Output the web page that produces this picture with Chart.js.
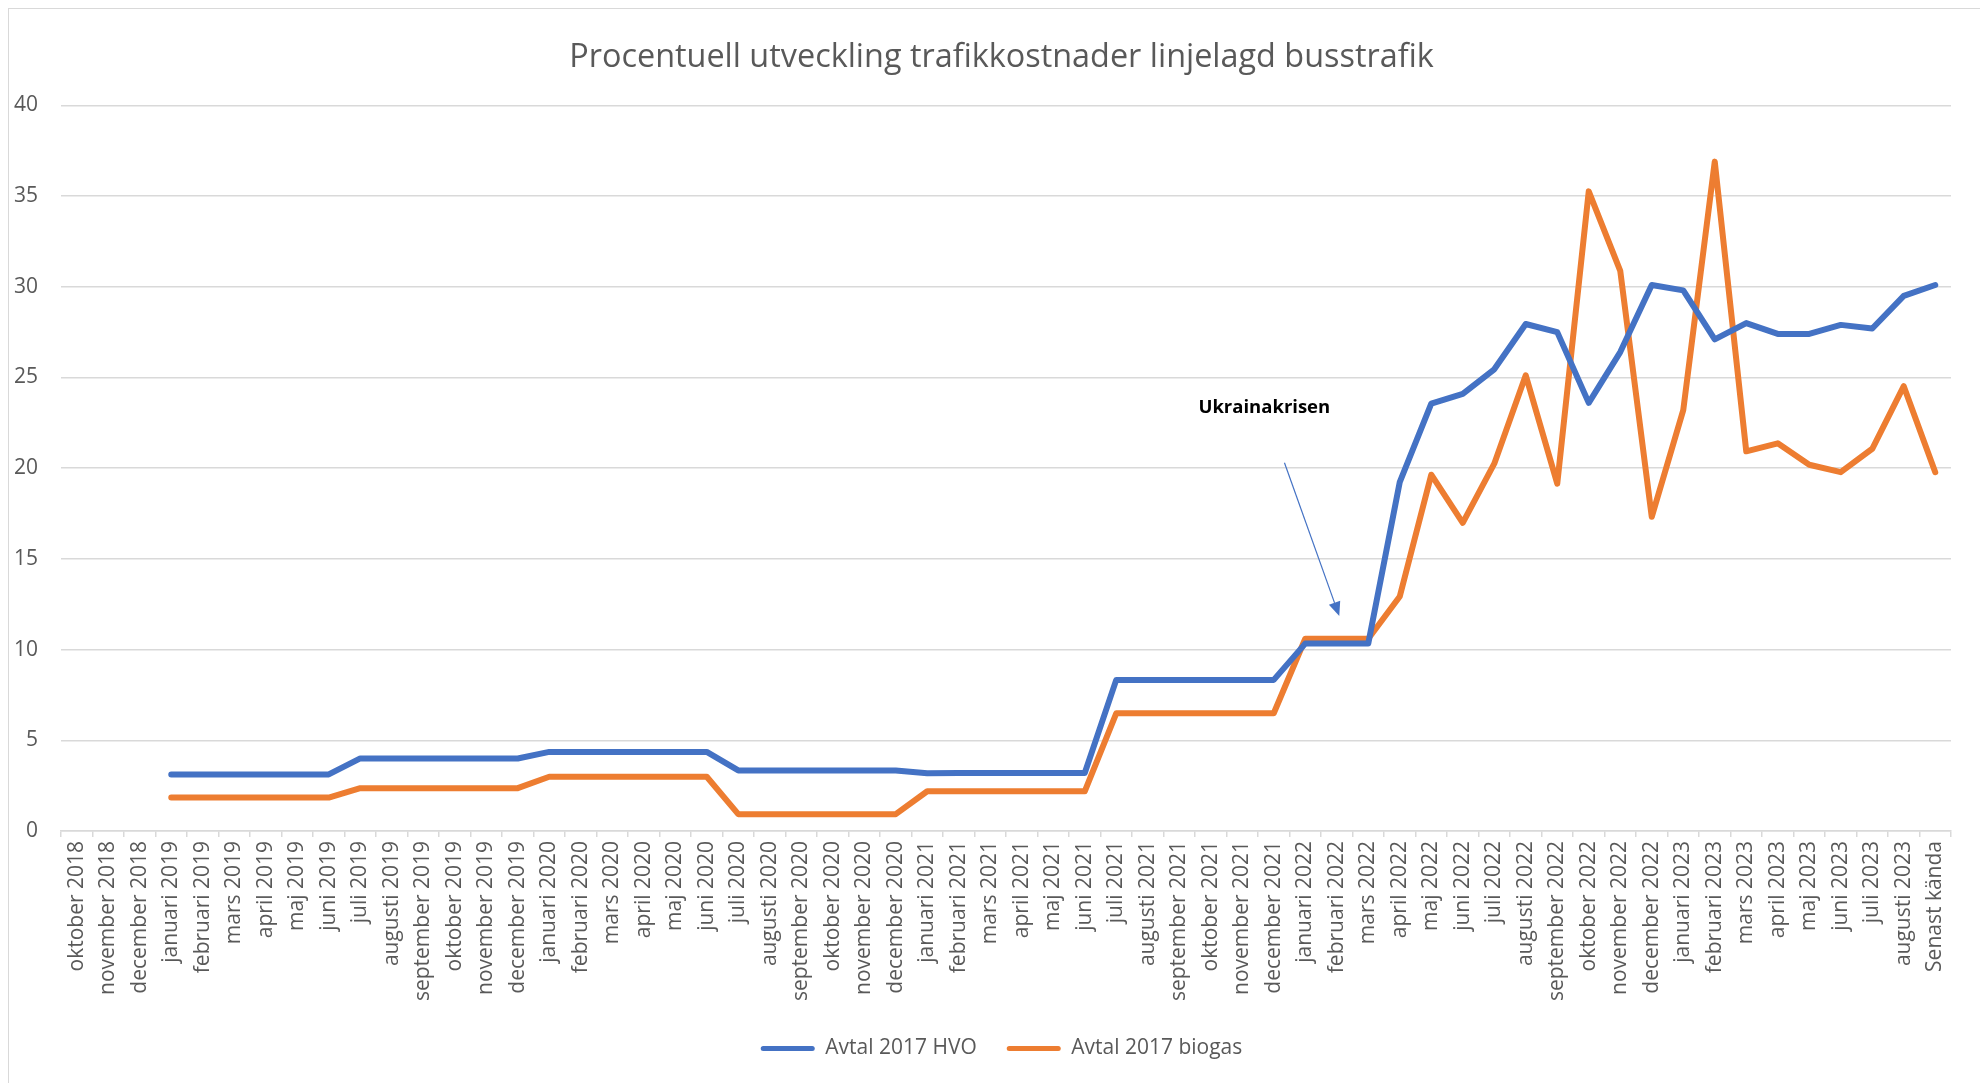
<!DOCTYPE html>
<html lang="sv">
<head>
<meta charset="utf-8">
<title>Procentuell utveckling trafikkostnader linjelagd busstrafik</title>
<script src="https://cdn.jsdelivr.net/npm/chart.js@4.4.1/dist/chart.umd.min.js"></script>
<style>
    html, body { margin: 0; padding: 0; background: #fff; }
    #wrap { position: relative; width: 1980px; height: 1083px; overflow: hidden; }
    #frame { position: absolute; left: 8px; top: 8px; width: 2000px; height: 1100px;
             border-left: 1.5px solid #d9d9d9; border-top: 1.5px solid #d9d9d9; }
    #chart { position: absolute; left: 0; top: 0; }
</style>
</head>
<body>
<div id="wrap">
    <div id="frame"></div>
    <canvas id="chart" width="1980" height="1083"></canvas>
</div>
<script>
// Kategorier (månader)
const months = [
    'oktober 2018', 'november 2018', 'december 2018',
    'januari 2019', 'februari 2019', 'mars 2019', 'april 2019', 'maj 2019', 'juni 2019',
    'juli 2019', 'augusti 2019', 'september 2019', 'oktober 2019', 'november 2019', 'december 2019',
    'januari 2020', 'februari 2020', 'mars 2020', 'april 2020', 'maj 2020', 'juni 2020',
    'juli 2020', 'augusti 2020', 'september 2020', 'oktober 2020', 'november 2020', 'december 2020',
    'januari 2021', 'februari 2021', 'mars 2021', 'april 2021', 'maj 2021', 'juni 2021',
    'juli 2021', 'augusti 2021', 'september 2021', 'oktober 2021', 'november 2021', 'december 2021',
    'januari 2022', 'februari 2022', 'mars 2022', 'april 2022', 'maj 2022', 'juni 2022',
    'juli 2022', 'augusti 2022', 'september 2022', 'oktober 2022', 'november 2022', 'december 2022',
    'januari 2023', 'februari 2023', 'mars 2023', 'april 2023', 'maj 2023', 'juni 2023',
    'juli 2023', 'augusti 2023', 'Senast kända'
];

// Avtal 2017 HVO (%)
const hvoValues = [
    null, null, null,
    3.12, 3.12, 3.12, 3.12, 3.12, 3.12,
    4.0, 4.0, 4.0, 4.0, 4.0, 4.0,
    4.36, 4.36, 4.36, 4.36, 4.36, 4.36,
    3.34, 3.34, 3.34, 3.34, 3.34, 3.34,
    3.18, 3.2, 3.2, 3.2, 3.2, 3.2,
    8.33, 8.33, 8.33, 8.33, 8.33, 8.33,
    10.33, 10.33, 10.33,
    19.23, 23.56, 24.1, 25.45, 27.95, 27.5, 23.6, 26.4, 30.1,
    29.8, 27.1, 28.0, 27.4, 27.4, 27.9, 27.7, 29.5,
    30.1
];

// Avtal 2017 biogas (%)
const biogasValues = [
    null, null, null,
    1.84, 1.84, 1.84, 1.84, 1.84, 1.84,
    2.36, 2.36, 2.36, 2.36, 2.36, 2.36,
    2.99, 2.99, 2.99, 2.99, 2.99, 2.99,
    0.93, 0.93, 0.93, 0.93, 0.93, 0.93,
    2.19, 2.19, 2.19, 2.19, 2.19, 2.19,
    6.49, 6.49, 6.49, 6.49, 6.49, 6.49,
    10.6, 10.6, 10.6,
    12.93, 19.64, 16.99, 20.25, 25.12, 19.15, 35.26, 30.88, 17.32,
    23.2, 36.9, 20.93, 21.37, 20.19, 19.78, 21.07, 24.52,
    19.78
];

const yTicks = [0, 5, 10, 15, 20, 25, 30, 35, 40];

// Anteckning (i dataenheter: kategoriindex, procent)
const noteText = 'Ukrainakrisen';
const notePos = { x: 37.7, y: 23.35 };
const arrowFrom = { x: 38.34, y: 20.3 };
const arrowTo = { x: 40.08, y: 11.85 };

const textColor = '#595959';
const gridColor = '#d9d9d9';

Chart.defaults.font.family = "'Open Sans', sans-serif";
Chart.defaults.font.size = 21;
Chart.defaults.color = textColor;

// Titel och legend centreras på hela diagramobjektet (lite till höger)
const shiftPlugin = {
    id: 'shiftPlugin',
    afterLayout(chart) {
        const dx = 26;
        [chart.titleBlock, chart.legend].forEach(box => {
            if (box) {
                box.left += dx;
                box.right += dx;
            }
        });
    }
};

// Ritar texten och pilen för Ukrainakrisen
const notePlugin = {
    id: 'notePlugin',
    afterDatasetsDraw(chart) {
        const { ctx, scales: { x, y } } = chart;
        ctx.save();
        ctx.font = "bold 18.5px 'Open Sans', sans-serif";
        ctx.fillStyle = '#000';
        ctx.textAlign = 'center';
        ctx.textBaseline = 'middle';
        ctx.fillText(noteText, x.getPixelForValue(notePos.x), y.getPixelForValue(notePos.y));

        const x1 = x.getPixelForValue(arrowFrom.x), y1 = y.getPixelForValue(arrowFrom.y);
        const x2 = x.getPixelForValue(arrowTo.x), y2 = y.getPixelForValue(arrowTo.y);
        const ang = Math.atan2(y2 - y1, x2 - x1);
        const headLen = 14, headW = 6;
        ctx.strokeStyle = '#4472C4';
        ctx.fillStyle = '#4472C4';
        ctx.lineWidth = 1.2;
        ctx.beginPath();
        ctx.moveTo(x1, y1);
        ctx.lineTo(x2 - headLen * Math.cos(ang), y2 - headLen * Math.sin(ang));
        ctx.stroke();
        ctx.beginPath();
        ctx.moveTo(x2, y2);
        ctx.lineTo(x2 - headLen * Math.cos(ang) + headW * Math.sin(ang), y2 - headLen * Math.sin(ang) - headW * Math.cos(ang));
        ctx.lineTo(x2 - headLen * Math.cos(ang) - headW * Math.sin(ang), y2 - headLen * Math.sin(ang) + headW * Math.cos(ang));
        ctx.closePath();
        ctx.fill();
        ctx.restore();
    }
};

const ctx = document.getElementById('chart').getContext('2d');
new Chart(ctx, {
    type: 'line',
    data: {
        labels: months,
        datasets: [{
            label: 'Avtal 2017 HVO',
            data: hvoValues,
            borderColor: '#4472C4',
            backgroundColor: '#4472C4',
            borderWidth: 6,
            borderJoinStyle: 'round',
            borderCapStyle: 'round',
            pointRadius: 0,
            tension: 0
        }, {
            label: 'Avtal 2017 biogas',
            data: biogasValues,
            borderColor: '#ED7D31',
            backgroundColor: '#ED7D31',
            borderWidth: 6,
            borderJoinStyle: 'round',
            borderCapStyle: 'round',
            pointRadius: 0,
            tension: 0
        }]
    },
    options: {
        responsive: false,
        animation: false,
        layout: {
            padding: { left: 0, right: 29, top: 0, bottom: 14 }
        },
        scales: {
            x: {
                offset: true,
                grid: {
                    offset: true,
                    drawOnChartArea: false,
                    color: gridColor,
                    lineWidth: 1.5,
                    tickLength: 6
                },
                border: { color: gridColor, width: 1.5 },
                ticks: {
                    autoSkip: false,
                    minRotation: 90,
                    maxRotation: 90,
                    padding: 4,
                    font: { size: 21 }
                },
                afterFit(scale) {
                    scale.height = 177;
                }
            },
            y: {
                min: 0,
                max: 40,
                afterBuildTicks(scale) {
                    scale.ticks = yTicks.map(v => ({ value: v }));
                },
                grid: {
                    color: gridColor,
                    lineWidth: 1.5,
                    drawTicks: false
                },
                border: { display: false },
                ticks: {
                    padding: 23,
                    font: { size: 21 }
                },
                afterFit(scale) {
                    scale.width = 61;
                }
            }
        },
        plugins: {
            title: {
                display: true,
                text: 'Procentuell utveckling trafikkostnader linjelagd busstrafik',
                color: textColor,
                font: { size: 32.4, weight: 'normal' },
                padding: { top: 38, bottom: 28.5 }
            },
            legend: {
                position: 'bottom',
                labels: {
                    boxWidth: 54,
                    boxHeight: 5,
                    padding: 30,
                    useBorderRadius: true,
                    borderRadius: 2.5,
                    color: textColor,
                    font: { size: 21 },
                    generateLabels(chart) {
                        const items = Chart.defaults.plugins.legend.labels.generateLabels(chart);
                        items.forEach(item => {
                            item.lineWidth = 0;
                            item.fillStyle = chart.data.datasets[item.datasetIndex].borderColor;
                        });
                        return items;
                    }
                }
            },
            tooltip: { enabled: false }
        }
    },
    plugins: [shiftPlugin, notePlugin]
});
</script>
</body>
</html>
